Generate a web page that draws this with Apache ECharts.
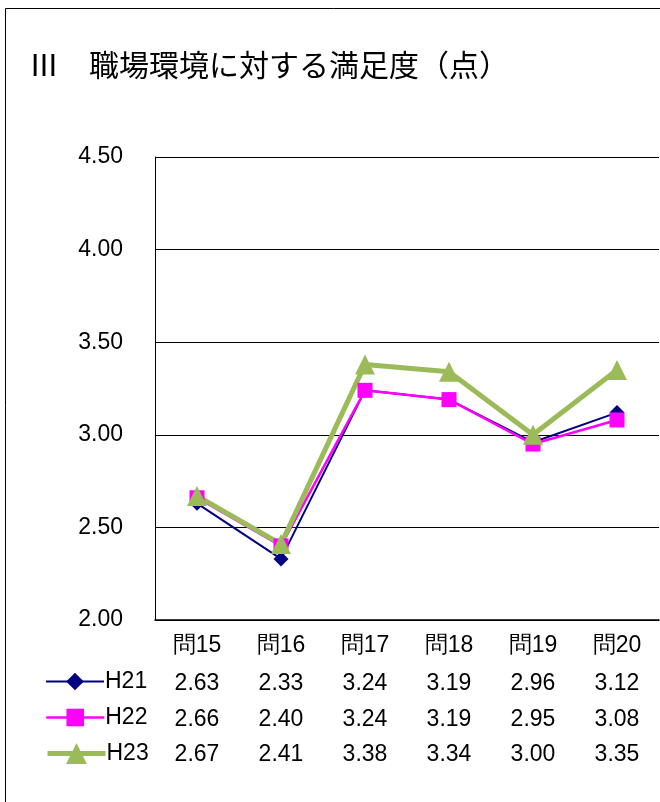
<!DOCTYPE html>
<html>
<head>
<meta charset="utf-8">
<script src="https://cdn.jsdelivr.net/npm/echarts@6/dist/echarts.min.js"></script>
<style>
  html, body { margin: 0; padding: 0; background: #fff; }
  #chart { width: 660px; height: 802px; }
</style>
</head>
<body>
<div id="chart"></div>
<script>
const categories = ['問15', '問16', '問17', '問18', '問19', '問20'];
const seriesNames = ['H21', 'H22', 'H23'];
const h21 = [2.63, 2.33, 3.24, 3.19, 2.96, 3.12];
const h22 = [2.66, 2.40, 3.24, 3.19, 2.95, 3.08];
const h23 = [2.67, 2.41, 3.38, 3.34, 3.00, 3.35];
const yTicks = { min: 2, max: 4.5, interval: 0.5 };

const numFont = '"Liberation Sans", Arial, sans-serif';
const cjkFont = '"Noto Sans CJK JP", sans-serif';
const allData = [h21, h22, h23];
const colors = ['#000080', '#FF00FF', '#9BBB59'];
const lineWidths = [2, 2.5, 5];
const tableOffsets = [42, 78, 113];

const chart = echarts.init(document.getElementById('chart'), null, { renderer: 'canvas' });

// extra x axes used as the data table rows
const tableAxes = allData.map((vals, i) => ({
  type: 'category',
  position: 'bottom',
  offset: tableOffsets[i],
  data: vals.map(v => v.toFixed(2)),
  axisLine: { show: false },
  axisTick: { show: false },
  splitLine: { show: false },
  axisLabel: { color: '#000', fontSize: 23, fontFamily: numFont, margin: 10 }
}));

const option = {
  animation: false,
  backgroundColor: '#fff',
  title: {
    text: 'Ⅲ　職場環境に対する満足度（点）',
    left: 24,
    top: 45,
    textStyle: { color: '#000', fontSize: 30, fontWeight: 'normal', fontFamily: cjkFont }
  },
  graphic: [{
    type: 'rect',
    shape: { x: 5.5, y: 8.5, width: 800, height: 900 },
    style: { fill: 'none', stroke: '#000', lineWidth: 1 },
    silent: true
  }],
  legend: seriesNames.map((name, i) => ({
    data: [name],
    left: 40,
    top: 665 + i * 36,
    itemWidth: 58,
    itemHeight: i === 2 ? 26 : 22,
    lineStyle: { width: lineWidths[i] },
    textStyle: { color: '#000', fontSize: 23, fontFamily: numFont, padding: [0, 0, 0, -4] }
  })),
  grid: { left: 155, right: 1, top: 157, bottom: 182, containLabel: false },
  xAxis: [{
    type: 'category',
    data: categories,
    axisLine: { lineStyle: { color: '#000', width: 1.5 } },
    axisTick: { show: false },
    axisLabel: { color: '#000', fontSize: 23, fontFamily: numFont, margin: 14 }
  }].concat(tableAxes),
  yAxis: {
    type: 'value',
    min: yTicks.min,
    max: yTicks.max,
    interval: yTicks.interval,
    axisLine: { show: true, lineStyle: { color: '#000', width: 1 } },
    axisTick: { show: false },
    splitLine: { lineStyle: { color: '#000', width: 1 } },
    axisLabel: {
      color: '#000', fontSize: 23, fontFamily: numFont, margin: 32,
      formatter: v => v.toFixed(2)
    }
  },
  series: [
    {
      name: 'H21', type: 'line', data: h21,
      symbol: 'diamond', symbolSize: 15,
      lineStyle: { color: colors[0], width: lineWidths[0] },
      itemStyle: { color: colors[0] }
    },
    {
      name: 'H22', type: 'line', data: h22,
      symbol: 'rect', symbolSize: 15,
      lineStyle: { color: colors[1], width: lineWidths[1] },
      itemStyle: { color: colors[1] }
    },
    {
      name: 'H23', type: 'line', data: h23,
      symbol: 'triangle', symbolSize: 20,
      lineStyle: { color: colors[2], width: lineWidths[2] },
      itemStyle: { color: colors[2] }
    }
  ]
};

chart.setOption(option);
</script>
</body>
</html>
